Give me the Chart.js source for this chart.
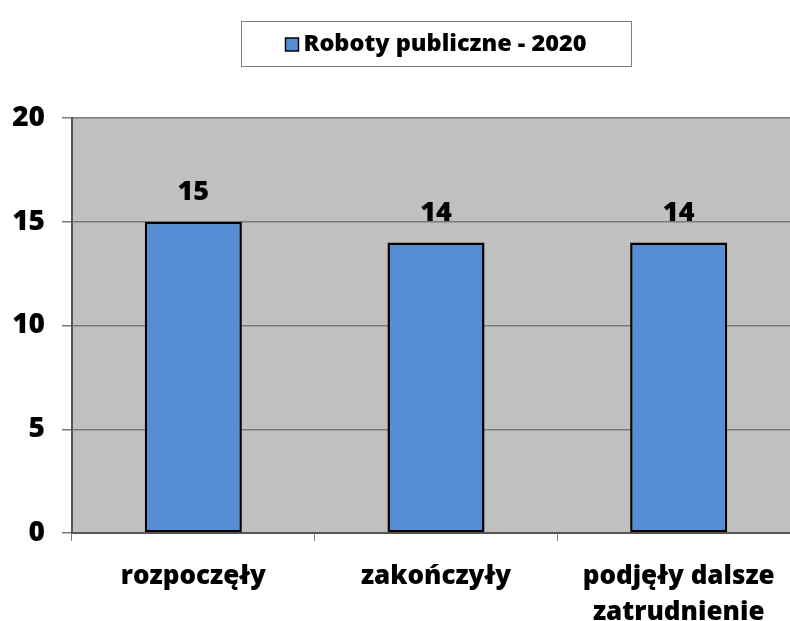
<!DOCTYPE html>
<html>
<head>
<meta charset="utf-8">
<script src="https://cdn.jsdelivr.net/npm/chart.js@4/dist/chart.umd.min.js"></script>
<style>
  html, body { margin: 0; padding: 0; background: #fff; overflow: hidden; }
  #wrap { position: relative; width: 800px; height: 621px; }
</style>
</head>
<body>
<div id="wrap"><canvas id="wykres" width="800" height="621"></canvas></div>
<script>
// dane wykresu
const kategorie = [['rozpoczęły'], ['zakończyły'], ['podjęły dalsze', 'zatrudnienie']];
const wartosci = [15, 14, 14];
const nazwaSerii = 'Roboty publiczne - 2020';
const yMin = 0, yMax = 20, yKrok = 5;

const kolorSlupka = '#558ed5';
const czcionka = '"Open Sans", "DejaVu Sans", sans-serif';
const grubosc = 800;

// tlo obszaru wykresu (szare)
const tloObszaru = {
    id: 'tloObszaru',
    beforeDraw(chart) {
        const { ctx, chartArea: a } = chart;
        ctx.save();
        ctx.fillStyle = '#c0c0c0';
        ctx.fillRect(a.left, a.top, a.right - a.left, a.bottom - a.top);
        ctx.restore();
    }
};

// etykiety wartosci nad slupkami
const etykietyWartosci = {
    id: 'etykietyWartosci',
    afterDatasetsDraw(chart) {
        const { ctx } = chart;
        const meta = chart.getDatasetMeta(0);
        ctx.save();
        ctx.font = grubosc + ' 27px ' + czcionka;
        ctx.fillStyle = '#000';
        ctx.textAlign = 'center';
        ctx.textBaseline = 'middle';
        meta.data.forEach((bar, i) => {
            ctx.fillText(String(chart.data.datasets[0].data[i]), bar.x, bar.y - 29);
        });
        ctx.restore();
    }
};

// legenda w ramce nad wykresem
const legendaRamka = {
    id: 'legendaRamka',
    afterDraw(chart) {
        const { ctx, chartArea: a } = chart;
        const srodek = (a.left + a.right) / 2;
        const szer = 390, wys = 45, gora = 21;
        const lewo = Math.round(srodek - szer / 2) + 0.5;
        ctx.save();
        ctx.strokeStyle = '#808080';
        ctx.lineWidth = 1;
        ctx.fillStyle = '#fff';
        ctx.fillRect(lewo, gora + 0.5, szer, wys);
        ctx.strokeRect(lewo, gora + 0.5, szer, wys);

        ctx.font = grubosc + ' 23.5px ' + czcionka;
        const tekst = chart.data.datasets[0].label;
        const wTekst = ctx.measureText(tekst).width;
        const kw = 13, odstep = 5;
        const start = srodek - (kw + odstep + wTekst) / 2;
        const yS = gora + wys / 2 + 1;
        ctx.fillStyle = kolorSlupka;
        ctx.fillRect(start, yS - kw / 2, kw, kw);
        ctx.strokeStyle = '#000';
        ctx.lineWidth = 1.5;
        ctx.strokeRect(start, yS - kw / 2, kw, kw);
        ctx.fillStyle = '#000';
        ctx.textAlign = 'left';
        ctx.textBaseline = 'middle';
        ctx.fillText(tekst, start + kw + odstep, yS);
        ctx.restore();
    }
};

new Chart(document.getElementById('wykres'), {
    type: 'bar',
    data: {
        labels: kategorie,
        datasets: [{
            label: nazwaSerii,
            data: wartosci,
            backgroundColor: kolorSlupka,
            borderColor: '#000',
            borderWidth: 2.5,
            borderSkipped: false,
            categoryPercentage: 1.0,
            barPercentage: 0.4
        }]
    },
    options: {
        responsive: false,
        animation: false,
        devicePixelRatio: 1,
        layout: { padding: { top: 118, right: 0, left: 0, bottom: 0 } },
        plugins: {
            legend: { display: false },
            tooltip: { enabled: false }
        },
        scales: {
            x: {
                grid: {
                    offset: true,
                    drawOnChartArea: false,
                    drawTicks: true,
                    tickLength: 8,
                    color: '#808080'
                },
                border: { display: true, color: '#555', width: 2 },
                ticks: {
                    color: '#000',
                    padding: 17,
                    font: { family: czcionka, size: 26, weight: grubosc, lineHeight: 1.4 }
                },
                afterFit(scale) { scale.height = 88; }
            },
            y: {
                min: yMin,
                max: yMax,
                grid: {
                    color: '#7a7a7a',
                    lineWidth: 1.5,
                    drawTicks: true,
                    tickLength: 10
                },
                border: { display: true, color: '#555', width: 2 },
                ticks: {
                    stepSize: yKrok,
                    color: '#000',
                    padding: 17,
                    font: { family: czcionka, size: 28, weight: grubosc }
                },
                afterFit(scale) { scale.width = 72; }
            }
        }
    },
    plugins: [tloObszaru, etykietyWartosci, legendaRamka]
});
</script>
</body>
</html>
